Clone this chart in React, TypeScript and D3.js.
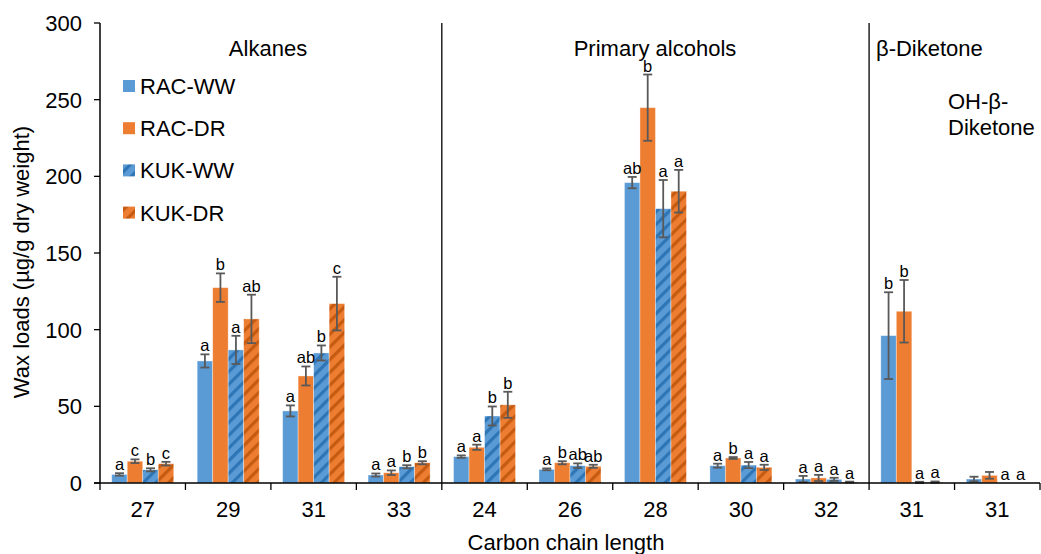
import React from "react";
import * as d3 from "d3";

const categories = ["27", "29", "31", "33", "24", "26", "28", "30", "32", "31", "31"];
const seriesNames = ["RAC-WW", "RAC-DR", "KUK-WW", "KUK-DR"];

const racWW = [5.6, 79.6, 47, 5.2, 17.2, 8.9, 195.9, 11.3, 2.6, 96.1, 2.6];
const racDR = [14.2, 127.4, 69.8, 6.7, 23.3, 13.2, 244.8, 16.3, 3.3, 112, 5];
const kukWW = [8.6, 86.8, 84.8, 10.6, 43.7, 11.3, 178.9, 11.7, 2.4, 0.4, 0];
const kukDR = [12.6, 107, 117, 13.2, 51, 10.9, 190.3, 10.2, 0.6, 0.6, 0];

const racWWErr = [0.8, 4.3, 3.6, 1.0, 0.8, 0.6, 3.7, 1.3, 2.0, 28.3, 1.5];
const racDRErr = [1.2, 9.3, 6.2, 1.5, 1.7, 1.0, 21.6, 0.6, 2.0, 20.4, 2.2];
const kukWWErr = [1.0, 9.2, 4.9, 1.0, 6.2, 1.5, 18.7, 2.0, 1.0, 0.4, 0];
const kukDRErr = [1.2, 15.8, 17.5, 1.0, 8.5, 1.0, 13.9, 1.7, 0.3, 0.4, 0];

const racWWLetters = ["a", "a", "a", "a", "a", "a", "ab", "a", "a", "b", ""];
const racDRLetters = ["c", "b", "ab", "a", "a", "b", "b", "b", "a", "b", ""];
const kukWWLetters = ["b", "a", "b", "b", "b", "ab", "a", "a", "a", "a", "a"];
const kukDRLetters = ["c", "ab", "c", "b", "b", "ab", "a", "a", "a", "a", "a"];

const yTicks = [0, 50, 100, 150, 200, 250, 300];
const separators = [4, 9];

const W = 1041;
const H = 554;
const left = 100;
const right = 1040;
const top = 23;
const bottom = 483;
const FONT = "'Liberation Sans', Arial, sans-serif";
const FS = 22;

const BLUE = "#5B9BD5";
const ORANGE = "#ED7D31";

export default function App() {
  const values = [racWW, racDR, kukWW, kukDR];
  const errs = [racWWErr, racDRErr, kukWWErr, kukDRErr];
  const letters = [racWWLetters, racDRLetters, kukWWLetters, kukDRLetters];
  const fills = [BLUE, ORANGE, "url(#hatchBlue)", "url(#hatchOrange)"];

  const idx = categories.map((_, i) => i);
  const x = d3.scaleBand<number>().domain(idx).range([left, right]).paddingInner(0).paddingOuter(0);
  const xs = d3
    .scaleBand<number>()
    .domain([0, 1, 2, 3])
    .range([0, x.bandwidth()])
    .paddingInner(0)
    .paddingOuter(0.756);
  const y = d3.scaleLinear().domain([0, 300]).range([bottom, top]);
  const bw = xs.bandwidth();

  const boundaries = d3.range(categories.length + 1).map((i) => left + i * x.step());

  return (
    <svg width={W} height={H} style={{ position: "absolute", left: 0, top: 0, background: "#fff" }}>
      <defs>
        <pattern id="hatchBlue" patternUnits="userSpaceOnUse" width="9" height="9" patternTransform="rotate(45)">
          <rect width="9" height="9" fill={BLUE} />
          <rect x="0" y="0" width="3.2" height="9" fill="#2E75B6" />
        </pattern>
        <pattern id="hatchOrange" patternUnits="userSpaceOnUse" width="9" height="9" patternTransform="rotate(45)">
          <rect width="9" height="9" fill={ORANGE} />
          <rect x="0" y="0" width="3.2" height="9" fill="#C55A11" />
        </pattern>
      </defs>

      {/* bars */}
      {values.map((vals, s) =>
        vals.map((v, i) => {
          const bx = (x(i) as number) + (xs(s) as number);
          return (
            <rect
              key={`b${s}-${i}`}
              x={bx}
              y={y(v)}
              width={bw}
              height={Math.max(0, bottom - y(v))}
              fill={fills[s]}
              stroke="#ffffff"
              strokeOpacity={0.45}
              strokeWidth={0.8}
            />
          );
        })
      )}

      {/* error bars */}
      {values.map((vals, s) =>
        vals.map((v, i) => {
          const e = errs[s][i];
          if (e <= 0) return null;
          const cx = (x(i) as number) + (xs(s) as number) + bw / 2;
          const y1 = y(v + e);
          const y0 = y(Math.max(0, v - e));
          return (
            <g key={`e${s}-${i}`} stroke="#595959" strokeWidth={1.8}>
              <line x1={cx} x2={cx} y1={y1} y2={y0} />
              <line x1={cx - 4.5} x2={cx + 4.5} y1={y1} y2={y1} />
              <line x1={cx - 4.5} x2={cx + 4.5} y1={y0} y2={y0} />
            </g>
          );
        })
      )}

      {/* letters */}
      {values.map((vals, s) =>
        vals.map((v, i) => {
          const t = letters[s][i];
          if (!t) return null;
          const cx = (x(i) as number) + (xs(s) as number) + bw / 2;
          const yy = y(v + errs[s][i]) - 3;
          return (
            <text key={`l${s}-${i}`} x={cx} y={yy} textAnchor="middle" fontFamily={FONT} fontSize={16.5} fill="#000">
              {t}
            </text>
          );
        })
      )}

      {/* separators */}
      {separators.map((si) => (
        <line key={`s${si}`} x1={boundaries[si]} x2={boundaries[si]} y1={top} y2={bottom} stroke="#000" strokeWidth={1.3} />
      ))}

      {/* axes */}
      <line x1={left} x2={left} y1={top} y2={bottom} stroke="#000" strokeWidth={1.5} />
      <line x1={left - 6} x2={right} y1={bottom} y2={bottom} stroke="#000" strokeWidth={1.5} />
      {yTicks.map((t) => (
        <g key={`yt${t}`}>
          <line x1={left - 6} x2={left} y1={y(t)} y2={y(t)} stroke="#000" strokeWidth={1.3} />
          <text x={82} y={y(t) + 8} textAnchor="end" fontFamily={FONT} fontSize={FS} fill="#000">
            {t}
          </text>
        </g>
      ))}
      {boundaries.map((bx, i) => (
        <line key={`xt${i}`} x1={bx} x2={bx} y1={bottom} y2={bottom + 7} stroke="#000" strokeWidth={1.3} />
      ))}
      {categories.map((c, i) => (
        <text
          key={`xl${i}`}
          x={(x(i) as number) + x.bandwidth() / 2}
          y={517}
          textAnchor="middle"
          fontFamily={FONT}
          fontSize={FS}
          fill="#000"
        >
          {c}
        </text>
      ))}

      {/* axis titles */}
      <text x={566} y={550} textAnchor="middle" fontFamily={FONT} fontSize={FS} fill="#000">
        Carbon chain length
      </text>
      <text
        transform={`translate(29, 262) rotate(-90)`}
        textAnchor="middle"
        fontFamily={FONT}
        fontSize={FS}
        fill="#000"
      >
        Wax loads (µg/g dry weight)
      </text>

      {/* section labels */}
      <text x={268} y={56} textAnchor="middle" fontFamily={FONT} fontSize={FS} fill="#000">
        Alkanes
      </text>
      <text x={655} y={56} textAnchor="middle" fontFamily={FONT} fontSize={FS} fill="#000">
        Primary alcohols
      </text>
      <text x={876} y={56} fontFamily={FONT} fontSize={FS} fill="#000">
        β-Diketone
      </text>
      <text x={948} y={109} fontFamily={FONT} fontSize={FS} fill="#000">
        OH-β-
      </text>
      <text x={948} y={135} fontFamily={FONT} fontSize={FS} fill="#000">
        Diketone
      </text>

      {/* legend */}
      {seriesNames.map((n, i) => {
        const cy = 86 + i * 42.2;
        return (
          <g key={`lg${i}`}>
            <rect x={123} y={cy - 6} width={12} height={12} fill={fills[i]} />
            <text x={140} y={cy + 8} fontFamily={FONT} fontSize={FS} fill="#000">
              {n}
            </text>
          </g>
        );
      })}
    </svg>
  );
}
